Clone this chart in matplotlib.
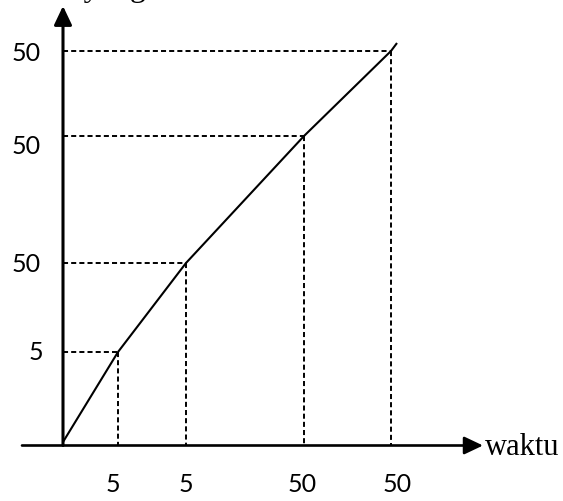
import matplotlib
matplotlib.use("Agg")
from matplotlib import pyplot as plt

# Points on the distance-time curve (arbitrary units)
waktu = [0.0, 5.5, 12.3, 24.1, 32.8]
jarak = [0.0, 9.0, 17.9, 30.6, 39.1]
# the line runs a little past the last point
waktu_end = 33.4
jarak_end = 39.9

# Labels printed next to the dashed guides
x_labels = ["5", "5", "50", "50"]
y_labels = ["5", "50", "50", "50"]

# small nudges of the labels (as in the picture)
y_nudge = [0.0, -0.1, -1.1, -0.3]
x_nudge = [-0.5, 0.0, -0.2, 0.6]

fig = plt.figure(figsize=(5.63, 5.01), dpi=100)
ax = fig.add_axes([0, 0, 1, 1])
ax.set_xlim(-6.3, 50.0)
ax.set_ylim(-5.9, 44.2)
ax.axis("off")

axis_y = -0.35
dash = (0, (2.6, 1.6))

# axes with arrows
ax.annotate("", xy=(0, 43.6), xytext=(0, axis_y),
            arrowprops=dict(arrowstyle="-|>,head_length=0.95,head_width=0.45",
                            mutation_scale=12, lw=2.2, color="black",
                            shrinkA=0, shrinkB=0))
ax.annotate("", xy=(42.0, axis_y), xytext=(-4.1, axis_y),
            arrowprops=dict(arrowstyle="-|>,head_length=0.95,head_width=0.45",
                            mutation_scale=12, lw=1.9, color="black",
                            shrinkA=0, shrinkB=0))

# the curve
ax.plot(waktu + [waktu_end], jarak + [jarak_end], color="black", lw=1.5,
        solid_capstyle="butt")

# dashed guides
for t, s in zip(waktu[1:], jarak[1:]):
    ax.plot([0, t], [s, s], color="black", lw=1.4, ls=dash)
    ax.plot([t, t], [s, axis_y], color="black", lw=1.4, ls=dash)

# labels
for t, lab, dx in zip(waktu[1:], x_labels, x_nudge):
    ax.text(t + dx, -4.2, lab, ha="center", va="center",
            fontsize=18, family="Lato")
for s, lab, dy in zip(jarak[1:], y_labels, y_nudge):
    ax.text(-3.7 if lab == "50" else -2.7, s + dy, lab, ha="center",
            va="center", fontsize=18, family="Lato")

ax.text(42.2, -1.3, "waktu", ha="left", va="baseline", fontsize=22,
        family="Liberation Serif")
# title text cut off at the top of the picture
ax.text(-5.5, 44.6, "Jarak yang", ha="left", va="baseline", fontsize=23,
        family="Liberation Serif")

fig.savefig("out.png", dpi=100)
